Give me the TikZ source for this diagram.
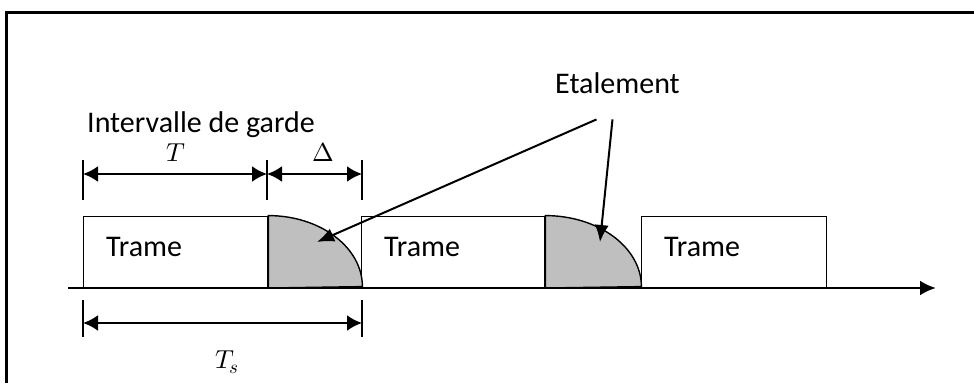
\documentclass[tikz,border=0pt]{standalone}
\usepackage{fontspec}
\setmainfont{Carlito}
\newfontfamily\symfont{Latin Modern Math}
\usetikzlibrary{arrows.meta, positioning}

\begin{document}
\begin{tikzpicture}[
    x=1pt, y=1pt,
    txt/.style={font=\fontsize{30}{36}\selectfont, inner sep=0pt},
    sym/.style={font=\fontsize{26}{30}\symfont, inner sep=0pt},
    trame/.style={draw, line width=1.4pt, fill=white, minimum height=71pt, inner sep=0pt, anchor=south west},
    spread/.style={draw, line width=1.4pt, fill=black!25},
    dim/.style={{Latex[length=15pt,width=16pt]}-{Latex[length=15pt,width=16pt]}, line width=2.4pt},
    tick/.style={line width=1.6pt},
    pointer/.style={-{Latex[length=17pt,width=14pt]}, line width=2pt}
]

\useasboundingbox (0,0) rectangle (974,383);

% Outer frame (only top and left edges)
\draw[line width=3pt] (6,0) -- (6,370) -- (974,370);

% Frames on the time axis
\node[trame, minimum width=184pt] (f1) at (83,95) {};
\node[trame, minimum width=183pt] (f2) at (361,95) {};
\node[trame, minimum width=185pt] (f3) at (641,95) {};
\foreach \f in {f1,f2,f3}
  \node[txt, anchor=base west] at ([xshift=23pt,yshift=31pt]\f.south west) {Trame};

% Delay spread after each frame
\draw[spread] (f1.south east) -- (f1.north east)
  arc[start angle=90, end angle=0, x radius=94, y radius=71] -- cycle;
\draw[spread] (f2.south east) -- (f2.north east)
  arc[start angle=90, end angle=0, x radius=96, y radius=71] -- cycle;

% Time axis
\coordinate (t0) at (68,95);
\coordinate (tend) at (936,95);
\draw[line width=2.8pt, -{Latex[length=16pt,width=15pt]}] (t0) -- (tend);

% Dimension marks
\coordinate (Tl) at (83,209);
\coordinate (Tr) at (267,209);
\coordinate (Dr) at (362,209);
\coordinate (Sl) at (83,60);
\coordinate (Sr) at (362,60);
\foreach \c in {Tl,Tr,Dr}
  \draw[tick] ([yshift=-26pt]\c) -- ([yshift=14pt]\c);
\foreach \c in {Sl,Sr}
  \draw[tick] ([yshift=-14pt]\c) -- ([yshift=23pt]\c);
\draw[dim] (Tl) -- (Tr);
\draw[dim] (Tr) -- (Dr);
\draw[dim] (Sl) -- (Sr);

\node[sym, anchor=base] (lblT) at (174,221) {𝑇};
\node[sym, anchor=base] (lblD) at (323,221) {Δ};
\node[sym, anchor=base] (lblTs) at (227,15)
  {𝑇\kern-1pt\raisebox{-5pt}{\fontsize{19}{22}\selectfont 𝑠}};

% Labels
\node[txt, anchor=base west] (garde) at (87,250) {Intervalle de garde};
\node[txt, anchor=base west] (etal) at (555,289) {Etalement};

% Pointers to the spread areas
\coordinate (e1) at ([xshift=-21pt,yshift=-25pt]etal.south);
\coordinate (e2) at ([xshift=-5pt,yshift=-25pt]etal.south);
\coordinate (s1) at (317,141);
\coordinate (s2) at (600,141);
\draw[pointer] (e1) -- (s1);
\draw[pointer] (e2) -- (s2);

\end{tikzpicture}
\end{document}
